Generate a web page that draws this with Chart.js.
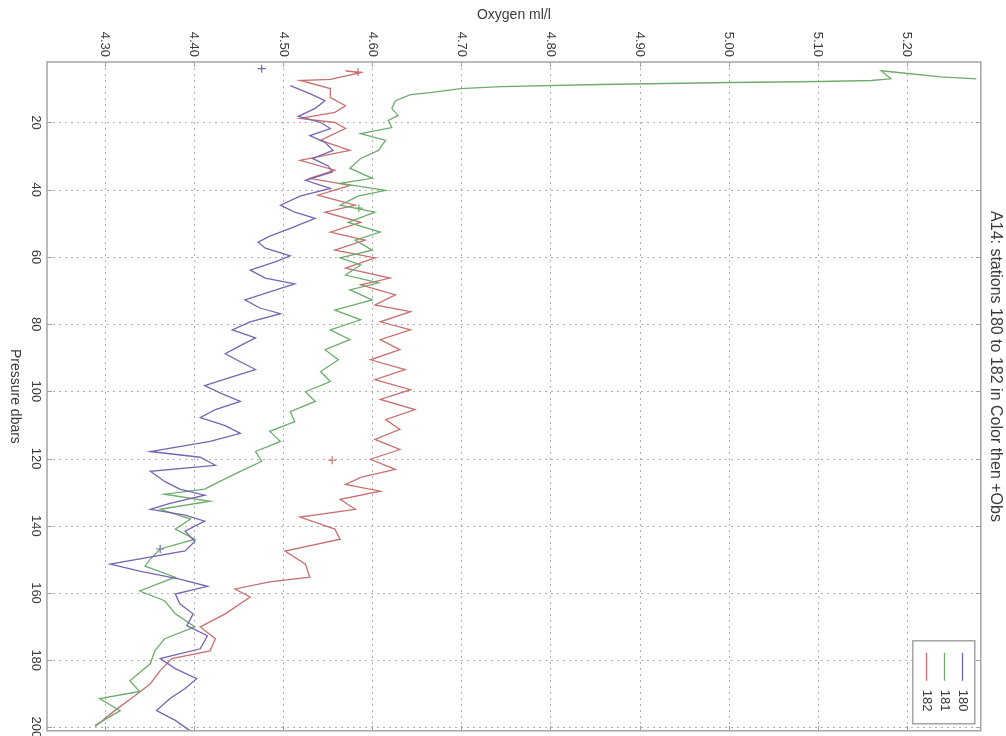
<!DOCTYPE html>
<html>
<head>
<meta charset="utf-8">
<script src="https://cdn.jsdelivr.net/npm/chart.js@4.4.1/dist/chart.umd.min.js"></script>
<style>
  html, body { margin: 0; padding: 0; background: #fff; }
  #wrap { width: 1006px; height: 736px; }
</style>
</head>
<body>
<div id="wrap"><canvas id="oxyChart" width="1006" height="736"></canvas></div>
<script>
// Axis ticks
const oxygenTicks = [4.3, 4.4, 4.5, 4.6, 4.7, 4.8, 4.9, 5.0, 5.1, 5.2];
const pressureTicks = [20, 40, 60, 80, 100, 120, 140, 160, 180, 200];
const stations = ["180", "181", "182"];
const titleText = "A14: stations 180 to 182 in Color then +Obs";

// Station 180 (blue)
const p180 = [9.0, 11.4, 13.5, 15.8, 18.2, 20.0, 21.8, 23.9, 25.9, 28.3, 30.7, 33.0, 34.8, 37.2, 39.6, 41.9, 44.6, 46.7, 48.5, 51.5,
  53.8, 55.6, 57.4, 59.7, 61.5, 63.9, 66.3, 68.0, 70.4, 72.8, 75.2, 76.9, 79.3, 81.7, 84.1, 86.4, 88.8, 91.2, 93.5, 95.9,
  98.3, 100.7, 103.0, 105.4, 107.8, 110.2, 112.5, 114.9, 117.9, 119.6, 122.0, 123.8, 126.8, 129.1, 130.9, 133.3, 135.1, 136.8, 138.6, 141.6,
  144.6, 147.5, 151.4, 153.5, 155.9, 158.0, 160.3, 163.2, 166.2, 169.7, 172.7, 176.6, 179.5, 182.5, 185.5, 188.4, 191.4, 195.0, 197.9, 201.1];
const o180 = [4.508, 4.530, 4.547, 4.536, 4.517, 4.542, 4.553, 4.530, 4.547, 4.556, 4.533, 4.551, 4.555, 4.525, 4.553, 4.519, 4.497, 4.513, 4.536, 4.508,
  4.485, 4.472, 4.480, 4.508, 4.491, 4.463, 4.480, 4.513, 4.485, 4.457, 4.474, 4.497, 4.463, 4.443, 4.469, 4.452, 4.435, 4.452, 4.469, 4.440,
  4.412, 4.431, 4.452, 4.424, 4.407, 4.435, 4.452, 4.418, 4.351, 4.407, 4.424, 4.351, 4.367, 4.384, 4.412, 4.373, 4.351, 4.390, 4.412, 4.390,
  4.401, 4.390, 4.306, 4.339, 4.384, 4.415, 4.379, 4.384, 4.399, 4.392, 4.415, 4.407, 4.362, 4.379, 4.403, 4.390, 4.373, 4.358, 4.379, 4.396];

// Station 181 (green)
const p181 = [7.0, 6.4, 5.2, 4.6, 7.0, 7.5, 7.8, 8.1, 8.7, 9.3, 9.9, 11.1, 11.7, 13.5, 15.8, 17.9, 19.4, 21.5, 23.3, 25.3,
  28.3, 30.7, 33.6, 36.6, 38.1, 40.2, 41.9, 44.6, 46.7, 49.7, 52.6, 55.0, 58.0, 60.3, 62.4, 65.4, 67.7, 69.8, 72.8, 75.8,
  78.7, 81.7, 84.6, 87.6, 90.6, 94.1, 97.1, 100.1, 103.0, 106.0, 109.0, 111.9, 114.9, 117.9, 120.8, 123.8, 126.8, 129.1, 130.6, 132.7,
  135.1, 138.0, 141.0, 144.0, 146.9, 149.9, 152.0, 155.3, 159.4, 162.3, 166.2, 170.1, 173.6, 177.2, 181.0, 186.1, 189.3, 191.4, 195.0, 199.4];
const o181 = [5.278, 5.238, 5.193, 5.171, 5.182, 5.160, 5.103, 5.002, 4.856, 4.744, 4.699, 4.665, 4.643, 4.626, 4.622, 4.629, 4.618, 4.622, 4.587, 4.615,
  4.607, 4.587, 4.575, 4.600, 4.564, 4.615, 4.584, 4.564, 4.603, 4.573, 4.609, 4.581, 4.600, 4.564, 4.587, 4.570, 4.607, 4.575, 4.600, 4.558,
  4.587, 4.553, 4.575, 4.547, 4.562, 4.542, 4.553, 4.525, 4.536, 4.508, 4.513, 4.485, 4.497, 4.469, 4.476, 4.452, 4.429, 4.412, 4.367, 4.418,
  4.362, 4.396, 4.379, 4.401, 4.362, 4.351, 4.345, 4.379, 4.339, 4.367, 4.379, 4.401, 4.367, 4.356, 4.351, 4.328, 4.339, 4.294, 4.317, 4.289];

// Station 182 (red)
const p182 = [4.6, 5.2, 7.2, 7.5, 9.9, 12.6, 15.0, 17.0, 18.8, 20.0, 21.8, 23.9, 25.3, 28.3, 31.3, 34.2, 36.6, 38.7, 41.6, 44.6,
  46.7, 49.7, 52.6, 55.0, 58.0, 60.3, 63.3, 66.3, 68.3, 71.3, 74.3, 76.3, 79.3, 81.7, 84.6, 87.6, 90.6, 93.5, 96.5, 99.5,
  102.4, 105.4, 108.4, 111.3, 114.3, 117.3, 120.2, 123.2, 125.6, 127.7, 129.7, 132.1, 135.1, 137.4, 141.0, 144.0, 147.5, 151.4, 155.3, 156.7,
  158.8, 161.2, 166.2, 170.1, 173.6, 177.2, 179.5, 183.1, 187.0, 190.5, 195.0, 199.7];
const o182 = [4.570, 4.587, 4.553, 4.519, 4.553, 4.553, 4.570, 4.558, 4.519, 4.558, 4.570, 4.553, 4.542, 4.575, 4.519, 4.558, 4.530, 4.575, 4.539, 4.581,
  4.547, 4.587, 4.553, 4.592, 4.558, 4.603, 4.570, 4.620, 4.587, 4.626, 4.603, 4.643, 4.609, 4.643, 4.609, 4.631, 4.598, 4.637, 4.603, 4.643,
  4.609, 4.648, 4.615, 4.631, 4.603, 4.631, 4.598, 4.626, 4.587, 4.570, 4.609, 4.564, 4.581, 4.519, 4.558, 4.564, 4.502, 4.525, 4.530, 4.485,
  4.446, 4.463, 4.435, 4.407, 4.424, 4.418, 4.375, 4.362, 4.351, 4.334, 4.311, 4.289];

// Bottle observations (+)
const obsP180 = [4.0, 146.9];
const obsO180 = [4.476, 4.362];
const obsP181 = [45.5];
const obsO181 = [4.585];
const obsP182 = [5.0, 120.5];
const obsO182 = [4.584, 4.555];

const colors = ["rgb(118,100,178)", "rgb(110,172,110)", "rgb(200,112,112)"];
const FONT = "'Liberation Sans', Arial, sans-serif";
const TEXT = "#3c3c3c";

function toPoints(ps, os) {
  return ps.map((p, i) => ({ x: os[i], y: p }));
}

const profiles = [[p180, o180], [p181, o181], [p182, o182]];
const observations = [[obsP180, obsO180], [obsP181, obsO181], [obsP182, obsO182]];

const datasets = [];
profiles.forEach(([ps, os], i) => {
  datasets.push({
    label: stations[i],
    data: toPoints(ps, os),
    showLine: true,
    borderColor: colors[i],
    borderWidth: 1.3,
    pointRadius: 0,
    fill: false,
  });
});
observations.forEach(([ps, os], i) => {
  datasets.push({
    label: stations[i] + " obs",
    data: toPoints(ps, os),
    showLine: false,
    borderColor: colors[i],
    backgroundColor: colors[i],
    pointStyle: "cross",
    pointRadius: 4,
    pointBorderWidth: 1.2,
  });
});

// Grid, box, rotated labels and legend (MATLAB-style, turned by 90 degrees)
const profileDecor = {
  id: "profileDecor",
  beforeDatasetsDraw(chart) {
    const { ctx, chartArea: a, scales } = chart;
    ctx.save();
    ctx.strokeStyle = "#b0b0b0";
    ctx.lineWidth = 1;
    ctx.setLineDash([2, 4]);
    scales.x.ticks.forEach((t) => {
      const x = Math.round(scales.x.getPixelForValue(t.value)) + 0.5;
      ctx.beginPath();
      ctx.moveTo(x, a.top);
      ctx.lineTo(x, a.bottom);
      ctx.stroke();
    });
    scales.y.ticks.forEach((t) => {
      const y = Math.round(scales.y.getPixelForValue(t.value)) + 0.5;
      ctx.beginPath();
      ctx.moveTo(a.left, y);
      ctx.lineTo(a.right, y);
      ctx.stroke();
    });
    ctx.restore();
  },
  afterDraw(chart) {
    const { ctx, chartArea: a, scales } = chart;
    ctx.save();

    // box and inward tick marks
    ctx.strokeStyle = "#a4a4a4";
    ctx.lineWidth = 1.5;
    ctx.strokeRect(a.left, a.top, a.right - a.left, a.bottom - a.top);
    ctx.lineWidth = 1;
    scales.x.ticks.forEach((t) => {
      const x = Math.round(scales.x.getPixelForValue(t.value)) + 0.5;
      ctx.beginPath();
      ctx.moveTo(x, a.top); ctx.lineTo(x, a.top + 5);
      ctx.moveTo(x, a.bottom); ctx.lineTo(x, a.bottom - 5);
      ctx.stroke();
    });
    scales.y.ticks.forEach((t) => {
      const y = Math.round(scales.y.getPixelForValue(t.value)) + 0.5;
      ctx.beginPath();
      ctx.moveTo(a.left, y); ctx.lineTo(a.left + 5, y);
      ctx.moveTo(a.right, y); ctx.lineTo(a.right - 5, y);
      ctx.stroke();
    });

    ctx.fillStyle = TEXT;
    ctx.font = "13px " + FONT;

    // oxygen tick labels (top, rotated)
    scales.x.ticks.forEach((t) => {
      const x = scales.x.getPixelForValue(t.value);
      ctx.save();
      ctx.translate(x, a.top - 5);
      ctx.rotate(Math.PI / 2);
      ctx.textAlign = "right";
      ctx.textBaseline = "middle";
      ctx.fillText(t.value.toFixed(2), 0, 0);
      ctx.restore();
    });

    // pressure tick labels (left, rotated)
    scales.y.ticks.forEach((t) => {
      const y = scales.y.getPixelForValue(t.value);
      ctx.save();
      ctx.translate(a.left - 11, y);
      ctx.rotate(Math.PI / 2);
      ctx.textAlign = "center";
      ctx.textBaseline = "middle";
      ctx.fillText(String(t.value), 0, 0);
      ctx.restore();
    });

    // axis titles
    ctx.font = "14px " + FONT;
    ctx.textAlign = "center";
    ctx.textBaseline = "middle";
    ctx.fillText("Oxygen ml/l", (a.left + a.right) / 2, 15);
    ctx.save();
    ctx.translate(15, (a.top + a.bottom) / 2);
    ctx.rotate(Math.PI / 2);
    ctx.fillText("Pressure dbars", 0, 0);
    ctx.restore();

    // legend box, bottom right, entries right-to-left
    const bw = 62, bh = 83;
    const bx = a.right - 6 - bw, by = a.bottom - 7 - bh;
    ctx.fillStyle = "#fff";
    ctx.fillRect(bx, by, bw, bh);
    ctx.strokeStyle = "#a4a4a4";
    ctx.lineWidth = 1.5;
    ctx.strokeRect(bx, by, bw, bh);
    ctx.font = "13px " + FONT;
    for (let i = 0; i < stations.length; i++) {
      const lx = Math.round(bx + bw - 13 - i * 18) + 0.5;
      ctx.strokeStyle = colors[i];
      ctx.lineWidth = 1.3;
      ctx.beginPath();
      ctx.moveTo(lx, by + 12);
      ctx.lineTo(lx, by + 40);
      ctx.stroke();
      ctx.save();
      ctx.fillStyle = TEXT;
      ctx.translate(lx, by + 49);
      ctx.rotate(Math.PI / 2);
      ctx.textAlign = "left";
      ctx.textBaseline = "middle";
      ctx.fillText(stations[i], 0, 0);
      ctx.restore();
    }
    ctx.restore();
  },
};

new Chart(document.getElementById("oxyChart").getContext("2d"), {
  type: "scatter",
  data: { datasets: datasets },
  options: {
    responsive: false,
    animation: false,
    devicePixelRatio: 1,
    layout: { padding: { top: 0, left: 0, right: 0, bottom: 3 } },
    scales: {
      x: {
        type: "linear",
        position: "top",
        min: 4.235,
        max: 5.283,
        bounds: "data",
        afterBuildTicks: (s) => { s.ticks = oxygenTicks.map((v) => ({ value: v })); },
        afterFit: (s) => { s.height = 62; },
        ticks: { display: false },
        grid: { display: false },
        border: { display: false },
      },
      y: {
        type: "linear",
        reverse: true,
        min: 2,
        max: 201,
        bounds: "data",
        afterBuildTicks: (s) => { s.ticks = pressureTicks.map((v) => ({ value: v })); },
        afterFit: (s) => { s.width = 47; },
        ticks: { display: false },
        grid: { display: false },
        border: { display: false },
      },
    },
    plugins: {
      legend: { display: false },
      tooltip: { enabled: false },
      title: {
        display: true,
        position: "right",
        text: titleText,
        color: TEXT,
        font: { family: FONT, size: 16, weight: "normal" },
        padding: { top: 1, bottom: 5 },
      },
    },
  },
  plugins: [profileDecor],
});
</script>
</body>
</html>
